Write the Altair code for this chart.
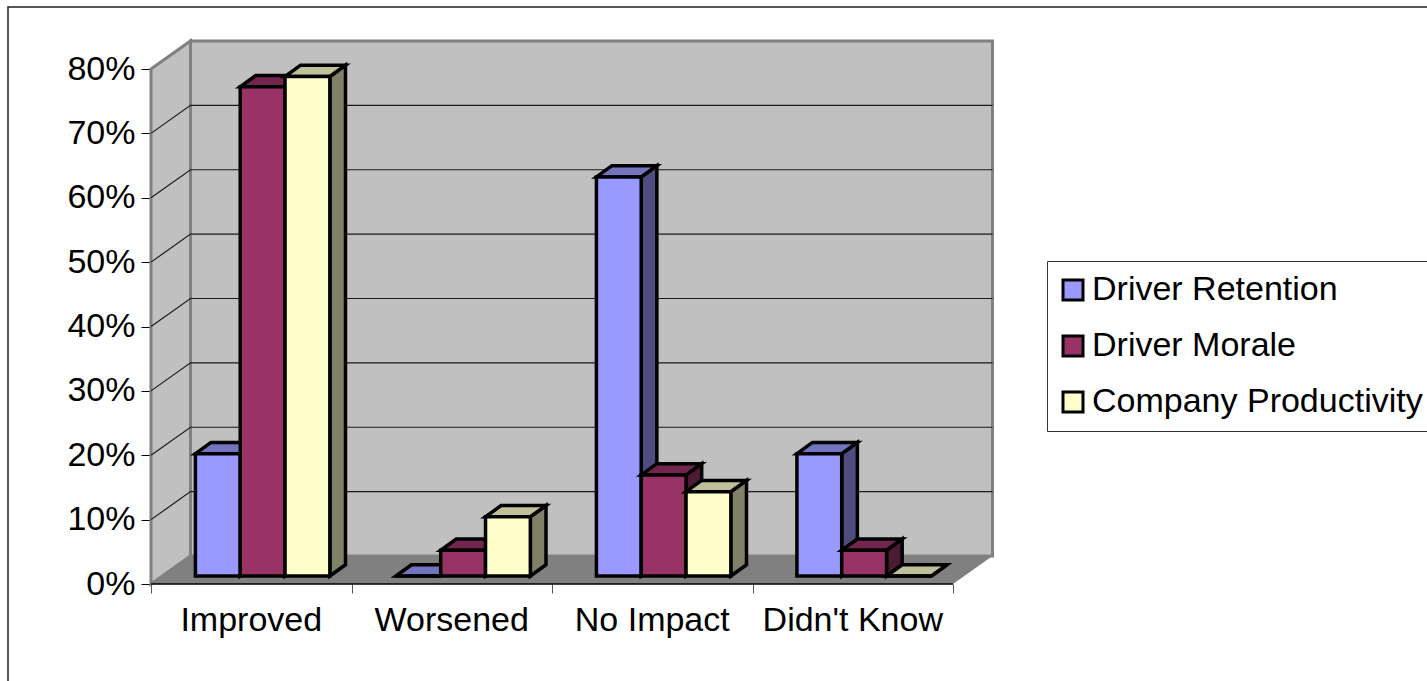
import altair as alt
import pandas as pd

categories = ["Improved", "Worsened", "No Impact", "Didn't Know"]
series = ["Driver Retention", "Driver Morale", "Company Productivity"]
retention = [19, 0, 62, 19]
morale = [76, 4, 15.7, 4]
productivity = [77.6, 9.2, 13.1, 0]
values_by_series = [retention, morale, productivity]

tick_percent = list(range(0, 90, 10))

front_colors = ["#9999FF", "#993366", "#FFFFCC"]
top_colors = ["#7373BF", "#73264D", "#BFBF99"]
side_colors = ["#4D4D80", "#4D1A33", "#808066"]

FONT = "Liberation Sans"
LABEL_SIZE = 34

# Projection of the 3D box, expressed in axis units (categories, percent)
WALL_DX = 0.197
WALL_DY = 4.35
BAR_START = 0.2215
BAR_W = 0.2235
BAR_RISE = 1.24
BAR_DX = 0.078
BAR_DY = 1.75

x_scale = alt.Scale(domain=[0, 4], range=[0, 802], nice=False, zero=False)
y_scale = alt.Scale(domain=[0, 80], range=[515, 0], nice=False, zero=False)
X = alt.X("x:Q", scale=x_scale, axis=None)
Y = alt.Y("y:Q", scale=y_scale, axis=None)

# Frame around the whole chart; its right and bottom edges run off the page
frame = alt.Chart(pd.DataFrame({"k": [0]})).mark_rect(
    fillOpacity=0, stroke="#222222", strokeWidth=1.5
).encode(
    x=alt.value(-143), x2=alt.value(1300), y=alt.value(-62), y2=alt.value(640)
)

# Back wall
back = alt.Chart(pd.DataFrame({"x": [WALL_DX, 4 + WALL_DX],
                               "lo": [WALL_DY, WALL_DY],
                               "hi": [80 + WALL_DY, 80 + WALL_DY]})).mark_area(
    fill="#C0C0C0", stroke="#808080", strokeWidth=3, orient="vertical"
).encode(x=X, y=alt.Y("hi:Q", scale=y_scale, axis=None), y2="lo:Q")

# Left wall
left = alt.Chart(pd.DataFrame({"x": [0, WALL_DX],
                               "lo": [0, WALL_DY],
                               "hi": [80, 80 + WALL_DY]})).mark_area(
    fill="#C0C0C0", stroke="#808080", strokeWidth=3, orient="vertical"
).encode(x=X, y=alt.Y("hi:Q", scale=y_scale, axis=None), y2="lo:Q")

# Floor
floor = alt.Chart(pd.DataFrame({"y": [0, WALL_DY],
                                "x0": [0, WALL_DX],
                                "x1": [4, 4 + WALL_DX]})).mark_area(
    fill="#808080", orient="horizontal"
).encode(y=Y, x=alt.X("x0:Q", scale=x_scale, axis=None), x2="x1:Q")

# Gridlines run across the left wall and then along the back wall
grid_rows = []
for p in tick_percent[1:-1]:
    grid_rows += [
        {"p": p, "x": 0, "y": p},
        {"p": p, "x": WALL_DX, "y": p + WALL_DY},
        {"p": p, "x": 4 + WALL_DX, "y": p + WALL_DY},
    ]
grid = alt.Chart(pd.DataFrame(grid_rows)).mark_line(
    color="#1a1a1a", strokeWidth=1.2
).encode(x=X, y=Y, detail="p:N", order="x:Q")

# Real axes: percent on the left, category ticks on the bottom
axis_base = alt.Chart(pd.DataFrame({"x": [0, 4], "y": [0, 0]})).mark_line(
    color="black", strokeWidth=1.5
).encode(
    x=alt.X("x:Q", scale=x_scale, axis=alt.Axis(
        values=[0, 1, 2, 3, 4], labels=False, title=None, grid=False,
        domain=False, ticks=True, tickSize=9, tickColor="#555555", tickWidth=1)),
    y=alt.Y("y:Q", scale=y_scale, axis=alt.Axis(
        values=tick_percent, title=None, grid=False, domain=False,
        ticks=True, tickSize=10, tickColor="black", tickWidth=1,
        labelExpr="datum.value + '%'", labelFont=FONT, labelFontSize=LABEL_SIZE,
        labelColor="black", labelPadding=6)),
)

cat_labels = alt.Chart(pd.DataFrame({
    "x": [i + 0.5 for i in range(4)], "y": [0] * 4, "t": categories,
})).mark_text(
    font=FONT, fontSize=LABEL_SIZE, color="black", baseline="middle", dy=37
).encode(x=X, y=Y, text="t:N")


def bar_layers(s_idx):
    vals = values_by_series[s_idx]
    name = series[s_idx]
    front, top, side = [], [], []
    for c_idx, v in enumerate(vals):
        x0 = c_idx + BAR_START + s_idx * BAR_W
        x1 = x0 + BAR_W
        base = BAR_RISE
        t = v + BAR_RISE
        front += [
            {"b": c_idx, "s": name, "x": x0, "lo": base, "hi": t},
            {"b": c_idx, "s": name, "x": x1, "lo": base, "hi": t},
        ]
        side += [
            {"b": c_idx, "x": x1, "lo": base, "hi": t},
            {"b": c_idx, "x": x1 + BAR_DX, "lo": base + BAR_DY, "hi": t + BAR_DY},
        ]
        top += [
            {"b": c_idx, "y": t, "x0": x0, "x1": x1},
            {"b": c_idx, "y": t + BAR_DY, "x0": x0 + BAR_DX, "x1": x1 + BAR_DX},
        ]
    stroke = dict(stroke="black", strokeWidth=3.5, strokeJoin="miter")
    side_ch = alt.Chart(pd.DataFrame(side)).mark_area(
        fill=side_colors[s_idx], orient="vertical", **stroke
    ).encode(x=X, y=alt.Y("hi:Q", scale=y_scale, axis=None), y2="lo:Q", detail="b:N")
    top_ch = alt.Chart(pd.DataFrame(top)).mark_area(
        fill=top_colors[s_idx], orient="horizontal", **stroke
    ).encode(y=Y, x=alt.X("x0:Q", scale=x_scale, axis=None), x2="x1:Q", detail="b:N")
    front_ch = alt.Chart(pd.DataFrame(front)).mark_area(
        orient="vertical", **stroke
    ).encode(
        x=X, y=alt.Y("hi:Q", scale=y_scale, axis=None), y2="lo:Q", detail="b:N",
        fill=alt.Fill("s:N", scale=alt.Scale(domain=series, range=front_colors), legend=alt.Legend(
            orient="none", legendX=896, legendY=192, title=None,
            strokeColor="#333333", fillColor="white", padding=12, rowPadding=22,
            symbolType="square", symbolSize=400, symbolOffset=-3, symbolStrokeColor="black",
            symbolStrokeWidth=3, labelFont=FONT, labelFontSize=LABEL_SIZE,
            labelColor="black", labelLimit=400, labelOffset=2, values=series)),
    )
    return [side_ch, top_ch, front_ch]


layers = [frame, back, left, floor, grid, axis_base, cat_labels]
for i in range(3):
    layers += bar_layers(i)

chart = alt.layer(*layers).resolve_scale(fill="shared").resolve_axis(
    x="independent", y="independent"
).properties(
    width=802, height=515,
    padding={"left": 151, "top": 69, "right": 474, "bottom": 97},
    autosize=alt.AutoSizeParams(type="none"),
    background="white",
).configure_view(stroke=None)

chart.save("out.html", embed_options={"renderer": "svg", "actions": False})
